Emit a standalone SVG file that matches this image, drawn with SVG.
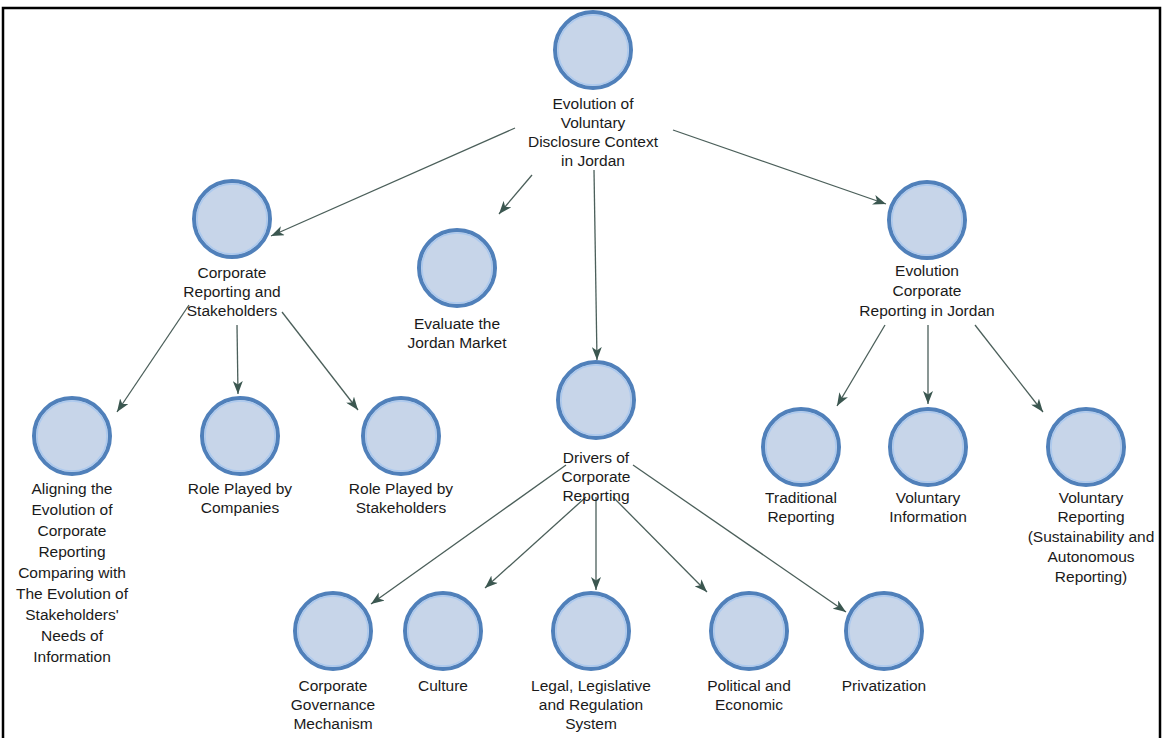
<svg xmlns="http://www.w3.org/2000/svg" width="1163" height="738" viewBox="0 0 1163 738">
  <style>
    .node circle.body { fill: #c7d5e9; stroke: #5080ba; stroke-width: 4; }
    .node circle.rim { fill: none; stroke: #acc9ee; stroke-width: 1.5; }
    .node text { font-family: "Liberation Sans", Arial, sans-serif; font-size: 15.5px; fill: #1a1a1a; text-anchor: middle; }
    .edges line { stroke: #4b5f5a; stroke-width: 1.3; marker-end: url(#arrow); }
  </style>
  <defs>
    <marker id="arrow" markerUnits="userSpaceOnUse" markerWidth="14" markerHeight="10" refX="13" refY="5" orient="auto">
      <path d="M0,0 L13,5 L0,10 L3.5,5 z" fill="#3b5750"/>
    </marker>
  </defs>
  <rect width="1163" height="738" fill="#ffffff"/>
  <rect x="3" y="8" width="1157" height="740" fill="none" stroke="#000000" stroke-width="2.5"/>

  <g class="edges">
    <line x1="515" y1="128" x2="271" y2="236"/>
    <line x1="532" y1="175" x2="499" y2="214"/>
    <line x1="594" y1="170" x2="597" y2="360"/>
    <line x1="673" y1="130" x2="886" y2="204"/>
    <line x1="189" y1="305" x2="117" y2="412"/>
    <line x1="237" y1="325" x2="238" y2="394"/>
    <line x1="282" y1="312" x2="358" y2="410"/>
    <line x1="885" y1="325" x2="837" y2="406"/>
    <line x1="928" y1="325" x2="928" y2="404"/>
    <line x1="975" y1="325" x2="1043" y2="412"/>
    <line x1="566" y1="465" x2="371" y2="604"/>
    <line x1="586" y1="497" x2="485" y2="588"/>
    <line x1="596" y1="497" x2="596" y2="590"/>
    <line x1="613" y1="497" x2="707" y2="592"/>
    <line x1="633" y1="465" x2="846" y2="612"/>
  </g>

  <g id="n-root" class="node">
    <circle class="body" cx="593" cy="50" r="38"/>
    <circle class="rim" cx="593" cy="50" r="35"/>
    <text x="593" y="109">Evolution of</text>
    <text x="593" y="128">Voluntary</text>
    <text x="593" y="147">Disclosure Context</text>
    <text x="593" y="166">in Jordan</text>
  </g>

  <g id="n-stakeholders" class="node">
    <circle class="body" cx="232" cy="219" r="38"/>
    <circle class="rim" cx="232" cy="219" r="35"/>
    <text x="232" y="278">Corporate</text>
    <text x="232" y="297">Reporting and</text>
    <text x="232" y="316">Stakeholders</text>
  </g>

  <g id="n-market" class="node">
    <circle class="body" cx="457" cy="268" r="38"/>
    <circle class="rim" cx="457" cy="268" r="35"/>
    <text x="457" y="329">Evaluate the</text>
    <text x="457" y="348">Jordan Market</text>
  </g>

  <g id="n-drivers" class="node">
    <circle class="body" cx="596" cy="400" r="38"/>
    <circle class="rim" cx="596" cy="400" r="35"/>
    <text x="596" y="463">Drivers of</text>
    <text x="596" y="482">Corporate</text>
    <text x="596" y="501">Reporting</text>
  </g>

  <g id="n-evolution" class="node">
    <circle class="body" cx="927" cy="220" r="38"/>
    <circle class="rim" cx="927" cy="220" r="35"/>
    <text x="927" y="276">Evolution</text>
    <text x="927" y="296">Corporate</text>
    <text x="927" y="316">Reporting in Jordan</text>
  </g>

  <g id="n-aligning" class="node">
    <circle class="body" cx="72" cy="436" r="38"/>
    <circle class="rim" cx="72" cy="436" r="35"/>
    <text x="72" y="494">Aligning the</text>
    <text x="72" y="515">Evolution of</text>
    <text x="72" y="536">Corporate</text>
    <text x="72" y="557">Reporting</text>
    <text x="72" y="578">Comparing with</text>
    <text x="72" y="599">The Evolution of</text>
    <text x="72" y="620">Stakeholders'</text>
    <text x="72" y="641">Needs of</text>
    <text x="72" y="662">Information</text>
  </g>

  <g id="n-companies" class="node">
    <circle class="body" cx="240" cy="436" r="38"/>
    <circle class="rim" cx="240" cy="436" r="35"/>
    <text x="240" y="494">Role Played by</text>
    <text x="240" y="513">Companies</text>
  </g>

  <g id="n-role-stakeholders" class="node">
    <circle class="body" cx="401" cy="436" r="38"/>
    <circle class="rim" cx="401" cy="436" r="35"/>
    <text x="401" y="494">Role Played by</text>
    <text x="401" y="513">Stakeholders</text>
  </g>

  <g id="n-traditional" class="node">
    <circle class="body" cx="801" cy="447" r="38"/>
    <circle class="rim" cx="801" cy="447" r="35"/>
    <text x="801" y="503">Traditional</text>
    <text x="801" y="522">Reporting</text>
  </g>

  <g id="n-voluntary-info" class="node">
    <circle class="body" cx="928" cy="447" r="38"/>
    <circle class="rim" cx="928" cy="447" r="35"/>
    <text x="928" y="503">Voluntary</text>
    <text x="928" y="522">Information</text>
  </g>

  <g id="n-voluntary-reporting" class="node">
    <circle class="body" cx="1086" cy="447" r="38"/>
    <circle class="rim" cx="1086" cy="447" r="35"/>
    <text x="1091" y="503">Voluntary</text>
    <text x="1091" y="522">Reporting</text>
    <text x="1091" y="542">(Sustainability and</text>
    <text x="1091" y="562">Autonomous</text>
    <text x="1091" y="582">Reporting)</text>
  </g>

  <g id="n-governance" class="node">
    <circle class="body" cx="333" cy="631" r="38"/>
    <circle class="rim" cx="333" cy="631" r="35"/>
    <text x="333" y="691">Corporate</text>
    <text x="333" y="710">Governance</text>
    <text x="333" y="729">Mechanism</text>
  </g>

  <g id="n-culture" class="node">
    <circle class="body" cx="443" cy="631" r="38"/>
    <circle class="rim" cx="443" cy="631" r="35"/>
    <text x="443" y="691">Culture</text>
  </g>

  <g id="n-legal" class="node">
    <circle class="body" cx="591" cy="631" r="38"/>
    <circle class="rim" cx="591" cy="631" r="35"/>
    <text x="591" y="691">Legal, Legislative</text>
    <text x="591" y="710">and Regulation</text>
    <text x="591" y="729">System</text>
  </g>

  <g id="n-political" class="node">
    <circle class="body" cx="749" cy="631" r="38"/>
    <circle class="rim" cx="749" cy="631" r="35"/>
    <text x="749" y="691">Political and</text>
    <text x="749" y="710">Economic</text>
  </g>

  <g id="n-privatization" class="node">
    <circle class="body" cx="884" cy="631" r="38"/>
    <circle class="rim" cx="884" cy="631" r="35"/>
    <text x="884" y="691">Privatization</text>
  </g>
</svg>
